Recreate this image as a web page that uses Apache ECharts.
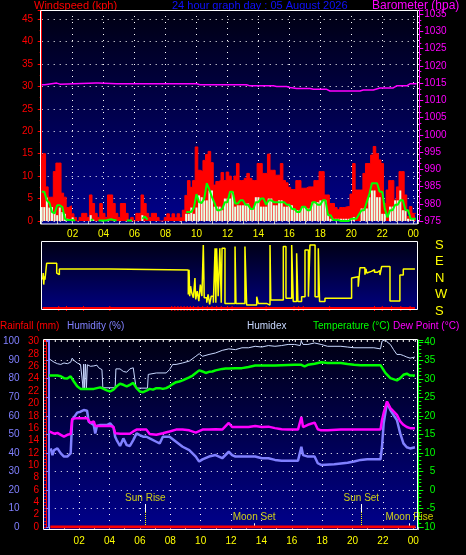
<!DOCTYPE html>
<html><head><meta charset="utf-8">
<script src="https://cdn.jsdelivr.net/npm/echarts@6/dist/echarts.min.js"></script>
<style>html,body{margin:0;padding:0;background:#000;}#c{width:466px;height:555px;}</style>
</head><body><div id="c"></div>
<script>
// ---------- DATA ----------
// Wind (10-minute samples from 00:00), kph
const windStepHours = 1 / 6;
const windGust = [
  13,15,7.6,5.3,5.3,11,12.9,12.9,6.2,5.3,
  3,3.4,1.6,0.8,0,0.8,1.7,1.7,0.8,5.8,
  3.9,1.7,0.8,3.9,1.7,0.8,5.8,5.8,3.9,1.7,
  0.8,3.9,3.9,1.7,0,0.8,0,1.7,1.7,5.8,
  3.9,1.7,0.8,1.7,1.7,0.8,0,0,0.8,1.6,
  0.7,1.6,0.7,1.6,0.7,2.4,5.7,9,7.5,9,
  16.5,11.3,11,13.5,14.8,15.5,13,8,8.8,9,
  10.8,9,10.9,10,9,10,12.8,9,9,9.5,
  10.6,9.5,9,9,12.8,12.8,10.6,10.6,14.9,11.3,
  11.3,10.2,10.2,12.8,9,8.5,7.5,7,7,9,
  9,7.3,7.3,7.6,7.6,7.6,9,9,11,11,
  5.8,5.8,3.9,3.9,3,2.5,3,3,3.2,3.2,
  6,12.8,6.9,6.9,6.9,10.6,12.8,12.8,14.7,16.6,
  15,13.6,12.8,3.9,6.9,9,9,4.7,7.6,11,
  11,5.8,1,3.2,1.7,1.7
];
const windSpeed = [
  3.1,3.1,5.2,3,3.1,2,1.3,3,2,1.6,
  0.5,0.3,0.8,0,0,0,0,0,0,1.3,
  0.3,0,0,0,0,0,0,0,0,0,
  0,0,0,0,0,0,0,0,0,1.3,
  0,0,0,0,0,0,0,0,0,0,
  0,0,0,0,0,0,1.6,1.6,3,1.6,
  3,5.7,5.3,4.6,4.6,6.8,6.8,3.2,3.2,3.2,
  2.4,5,5,5,6.5,3.2,3.5,3.5,3.5,3.9,
  3.9,2.8,2.8,5.3,5.3,3.2,3.2,3.2,5,5,
  3.5,3.5,4.6,4.6,3.2,3.2,3.5,3.5,2.4,2.4,
  2.4,3.2,3.2,2.8,2.8,4.2,4.2,4.2,4.6,4.6,
  4.6,1.6,0.5,0.5,0.5,0.5,0.5,0.5,0.5,0.5,
  0.5,0.9,0,0,2.8,2.8,2.8,5.3,6.8,6.8,
  5.3,5.3,1.6,1.6,0,3.2,3.2,4.6,4.6,6.8,
  2.4,2.4,0.5,0.5,0.5,0
];
const windAvg = [
  6.5,6.5,4.6,4,2,1.7,3.5,3.5,3.1,0.5,
  0.2,0.2,0.2,0.1,null,null,null,null,null,0.3,
  0.3,null,0.1,0.1,0.1,0.1,0.3,0.4,0.2,0.1,
  null,null,null,0.1,0.1,0.1,null,null,null,0.5,
  1.0,0.3,null,null,null,null,null,null,null,null,
  null,null,null,null,null,null,2,2,2,3,
  6,4.2,4,5,8.4,7,5.3,4,2.4,2.4,
  2.7,4.2,4.2,6.5,6.5,3.9,3.9,4.6,4.6,3.6,
  3.6,2.7,2.7,4.2,4.2,5,5,3.6,4.6,4.6,
  4.2,4.2,4.2,4.2,4.2,3.6,3.6,2.7,2.7,2,
  2,3.2,3.2,2.4,2.4,4.2,4.2,3.6,3.6,4.6,
  4.6,1.3,1.3,0.2,0.2,0.2,0,0,0,0,
  0.5,0.5,0.5,1.5,2.4,2.4,4.2,6,8.4,8.4,
  8.4,6.5,6.5,2.7,0.8,2.4,2.4,3.6,3.6,4.6,
  4.6,2.4,2.4,0.5,0.5,0.5
];
// Barometer [hour, hPa]
const baroData = [[0.0,1014.5],[0.2,1014.5],[0.32,1015.0],[0.97,1015.0],[1.0,1014.7],[1.18,1014.7],[1.25,1015.0],[3.5,1015.0],[3.55,1015.2],[3.65,1015.0],[4.84,1014.8],[7.0,1014.8],[10.01,1014.8],[10.22,1014.5],[13.24,1014.5],[13.45,1014.2],[14.96,1014.2],[15.18,1014.0],[15.82,1014.0],[16.04,1013.7],[16.47,1013.4],[17.33,1013.4],[17.55,1013.2],[18.41,1013.2],[18.62,1012.7],[20.56,1012.7],[20.78,1013.0],[21.42,1013.0],[21.85,1013.6],[22.71,1013.6],[22.93,1014.2],[23.58,1014.2],[23.79,1014.8],[24.22,1014.8]];
// Wind direction [hour, position on S-W-N-E-S scale 0..4]
const windDirLabels = ['S','W','N','E','S'];
const windDirData = [[0.06,1.9],[0.1,2.3],[0.13,1.6],[0.17,2.1],[0.21,1.9],[0.32,2.89],[0.97,2.3],[1.05,2.2],[1.14,2.55],[4.41,2.48],[9.47,1.0],[9.52,2.5],[9.56,0.9],[9.62,1.5],[9.69,1.1],[9.8,0.8],[9.9,2.0],[9.95,0.7],[10.05,1.2],[10.15,0.6],[10.25,1.6],[10.35,0.9],[10.44,4.0],[10.5,0.8],[10.66,0.5],[10.75,1.0],[10.85,0.4],[10.95,0.9],[11.09,0.5],[11.2,3.8],[11.25,0.5],[11.3,3.8],[11.4,0.9],[11.51,3.8],[11.6,0.5],[11.65,3.8],[11.84,0.46],[12.49,3.9],[12.55,0.46],[13.13,3.9],[13.24,0.37],[13.89,0.87],[13.99,0.46],[14.53,0.36],[14.75,4.0],[14.8,0.67],[15.61,3.9],[15.78,0.77],[16.15,4.0],[16.25,0.57],[16.47,3.5],[16.55,0.57],[16.79,0.87],[17.01,3.7],[17.23,0.87],[17.33,4.0],[17.66,0.87],[17.87,3.8],[17.95,0.57],[18.3,0.77],[20.02,2.0],[20.13,2.08],[20.45,1.47],[20.56,2.62],[20.88,2.2],[20.95,2.55],[21.0,2.3],[21.1,2.4],[21.3,2.5],[21.5,2.35],[21.7,2.45],[21.85,2.18],[21.96,2.69],[22.5,0.61],[23.14,2.18],[23.36,2.55],[24.11,2.55]];
const windDirRedLine = [[0.06,0.18],[24.11,0.18]];
const windDirRedSpikes = [1.1,1.6,2.7,4.4,8.4,8.6,8.8,9.0,9.2,9.4,9.6,9.8,10.1,10.4,10.7,11.0,11.3,11.6,12.0,12.3,14.5,16.3,16.6,16.9,18.6,21.5,22.0,22.6,23.2,23.8];
// Bottom panel [hour, value]
const rainData = [[0.1,0],[24.15,0]];
const tempData = [[0.03,30.9],[0.57,30.9],[0.79,30.7],[1.0,30.2],[1.22,30.1],[1.44,30.7],[1.54,30.9],[1.65,29.3],[1.87,28.0],[2.09,27.3],[2.52,27.3],[2.96,27.3],[3.17,27.5],[3.39,27.7],[3.61,27.3],[3.82,26.9],[4.04,26.6],[4.26,27.1],[4.47,28.0],[4.69,28.7],[4.91,28.4],[5.13,28.0],[5.34,28.4],[5.56,28.9],[5.78,27.5],[5.99,26.6],[6.21,26.4],[6.43,26.8],[6.64,27.3],[6.86,27.1],[7.08,27.5],[7.3,27.5],[7.51,27.3],[7.73,27.5],[7.95,28.0],[8.16,28.6],[8.38,29.1],[8.6,29.3],[8.81,29.6],[9.03,30.0],[9.25,30.4],[9.47,30.9],[9.68,31.6],[9.9,32.3],[10.12,32.0],[10.33,31.6],[10.55,31.9],[10.77,32.0],[10.98,32.3],[11.2,32.5],[11.42,32.7],[11.64,32.8],[11.85,32.8],[12.29,32.9],[12.72,32.9],[13.15,33.2],[13.59,33.6],[14.02,33.6],[14.89,33.6],[15.33,33.7],[16.19,33.8],[16.63,33.8],[16.84,33.4],[17.06,33.8],[17.5,34.1],[17.93,34.5],[18.36,34.3],[19.23,34.3],[19.67,34.0],[20.1,33.8],[20.53,33.7],[21.84,33.7],[21.94,33.4],[22.16,31.6],[22.49,30.2],[22.92,29.6],[23.14,30.2],[23.35,31.1],[23.57,31.4],[23.79,30.9],[24.11,30.9]];
const humidexData = [[0.03,35.4],[0.13,35.2],[0.35,34.5],[0.57,34.1],[0.79,33.9],[1.0,34.3],[1.22,34.1],[1.44,34.5],[1.54,35.6],[1.65,35.0],[1.87,34.3],[2.09,33.9],[2.2,34.1],[2.26,27.5],[2.3,34.0],[2.36,27.5],[2.42,34.0],[2.48,27.5],[2.54,33.8],[2.74,33.4],[2.96,33.5],[3.17,33.7],[3.28,33.0],[3.39,32.5],[3.5,32.5],[3.56,27.6],[4.37,27.6],[4.42,32.7],[4.47,32.5],[4.69,32.7],[4.91,32.0],[5.13,31.8],[5.34,32.7],[5.56,33.0],[5.67,32.5],[5.75,27.5],[6.5,27.5],[6.55,31.2],[6.64,31.6],[7.08,31.6],[7.73,31.6],[7.95,32.5],[8.16,33.9],[8.38,33.9],[8.81,34.3],[9.25,34.8],[9.68,36.1],[9.9,36.8],[10.12,36.1],[10.55,36.6],[10.98,37.0],[11.42,37.7],[11.85,38.1],[12.29,37.9],[12.72,38.4],[13.15,38.4],[13.59,38.8],[14.02,38.6],[14.46,39.0],[14.89,38.8],[15.33,39.0],[15.76,39.3],[16.19,39.3],[16.55,39.0],[16.63,40.2],[16.74,39.3],[16.84,39.0],[17.06,39.3],[17.5,39.7],[17.93,39.3],[18.36,38.8],[19.23,38.8],[19.67,38.6],[20.1,38.4],[21.4,38.4],[21.84,38.1],[21.94,40.2],[22.16,40.6],[22.27,40.0],[22.49,39.3],[22.7,37.9],[22.92,36.6],[23.14,36.6],[23.35,36.3],[23.57,35.9],[23.79,35.6],[24.11,35.9]];
const dewData = [[0.03,15.8],[0.13,16.1],[0.35,15.2],[0.57,15.4],[0.79,14.9],[1.0,14.4],[1.22,14.9],[1.44,15.1],[1.54,19.2],[1.87,19.4],[2.2,19.4],[2.52,19.4],[2.63,19.0],[2.74,18.1],[2.96,18.5],[3.06,17.3],[3.5,17.3],[4.04,17.3],[4.26,17.0],[4.37,15.3],[4.69,15.2],[5.34,15.2],[5.56,15.8],[5.78,16.3],[6.43,16.3],[6.64,15.1],[7.08,14.9],[7.51,15.3],[7.95,15.8],[8.38,16.3],[8.81,16.3],[9.25,16.1],[9.68,15.5],[10.12,16.3],[10.55,16.3],[10.98,16.4],[11.42,16.3],[11.85,18.1],[12.07,17.0],[12.72,17.0],[13.15,17.0],[13.59,17.3],[14.02,17.0],[14.46,17.1],[14.89,16.7],[15.33,16.4],[15.76,16.3],[16.41,16.3],[16.63,19.7],[16.74,17.0],[17.06,17.6],[17.5,18.2],[17.71,16.4],[17.93,16.1],[18.36,16.1],[19.23,16.3],[21.84,16.3],[21.94,18.9],[22.05,20.8],[22.27,23.9],[22.49,22.1],[22.7,21.2],[22.92,20.3],[23.14,18.5],[23.35,17.6],[23.57,17.0],[23.79,16.7],[24.11,16.7]];
const humData = [[0.13,42.4],[0.24,38.8],[0.35,41.5],[0.57,42.4],[0.79,39.7],[1.0,38],[1.22,38],[1.44,39.7],[1.54,57.7],[1.87,61.7],[2.09,62.2],[2.3,63.1],[2.52,62.7],[2.63,56.8],[2.74,55.9],[2.96,55],[3.06,50.5],[3.17,54.5],[3.39,55],[3.82,55],[4.04,55.9],[4.26,53.8],[4.37,48.7],[4.47,46.9],[4.69,43.7],[4.91,47.8],[5.13,44.2],[5.34,43.7],[5.56,46.9],[5.78,50.5],[5.99,49.6],[6.21,48.7],[6.43,48.7],[6.64,47.8],[7.08,46],[7.3,45.1],[7.51,48.7],[7.95,48.7],[8.38,46],[8.81,43.3],[9.25,41.5],[9.68,38],[9.9,35.3],[10.12,36.5],[10.55,38],[10.98,38.8],[11.42,37.1],[11.85,40.6],[12.07,38.8],[12.29,38],[13.15,38],[13.59,38],[14.02,37.1],[14.46,37.1],[14.89,36.2],[15.33,35.8],[16.41,35.8],[16.63,43.3],[16.74,38.8],[17.06,38],[17.5,38],[17.71,34.4],[17.93,33.5],[18.8,33.8],[19.67,34.7],[20.1,35.3],[20.53,36.2],[20.97,36.5],[21.84,36.5],[21.94,43.3],[22.05,56],[22.27,67.1],[22.49,63.1],[22.7,60.4],[22.92,57.7],[23.14,50.5],[23.35,45.1],[23.57,43],[23.79,42.4],[24.11,43]];
// Sun / moon events
const eventNames = ['Sun Rise','Moon Set','Sun Set','Moon Rise'];
const eventTimes = [6.36, 13.52, 20.58, 23.74];
const eventKinds = ['sun','moon','sun','moon'];

// ---------- CHART ----------
const FONT = '"Liberation Sans", Arial, sans-serif';
const chart = echarts.init(document.getElementById('c'), null, {renderer:'canvas', width:466, height:555});
const grad = (a,b) => new echarts.graphic.LinearGradient(0,0,0,1,[{offset:0,color:a},{offset:1,color:b}]);
const dotted = {show:true, lineStyle:{color:'#ffffff', type:[1,5], width:1}};
const hourLabel = v => (Math.abs(v-Math.round(v))<1e-6 && v>0.5 && v<=24.01 && Math.round(v)%2===0) ? String(Math.round(v)%24).padStart(2,'0') : '';
const stepLabel = (step, maxv) => v => { const q = v/step; return (Math.abs(q-Math.round(q))<1e-6 && v<=maxv+1e-6) ? String(Math.round(v)) : ''; };
const windPairs = arr => arr.map((v,i)=>[i*windStepHours, v]);

const sunTop = 12.4, sunMid = 8.1, moonTop = 2.0, sunLabel = 15.6, moonLabel = 5.4;
const markData = [];
eventTimes.forEach((t,i)=>{
  if (eventKinds[i]==='sun') {
    markData.push([{coord:[t,sunTop], lineStyle:{color:'#ffffff',width:1,type:'solid'}},{coord:[t,sunMid]}]);
    markData.push([{coord:[t,sunMid], lineStyle:{color:'#ffff00',width:1,type:[1,1]}},{coord:[t,0]}]);
  } else {
    markData.push([{coord:[t,moonTop], lineStyle:{color:'#ffffff',width:1,type:'solid'}},{coord:[t,0]}]);
  }
});

const txt = (text,left,top,color,size) => ({text, left, top, padding:0, textStyle:{color, fontSize:size, fontWeight:'normal', fontFamily:FONT}});

const option = {
  backgroundColor:'#000',
  animation:false,
  textStyle:{fontFamily:FONT},
  title:[
    txt('Windspeed (kph)',34,0,'#ff0000',11),
    txt('24 hour graph day : 05 August 2026',172,0,'#1010ff',11),
    txt('Barometer (hpa)',372,0,'#ff00ff',12),
    txt('Rainfall (mm)',0,321,'#ff0000',10),
    txt('Humidity (%)',67,321,'#8080ff',10),
    txt('Humidex',247,321,'#c8d8ff',10),
    txt('Temperature (°C)',313,321,'#00ff00',10),
    txt('Dew Point (°C)',393,321,'#ff00ff',10)
  ],
  graphic:{elements:[
    {type:'rect', silent:true, z:-10, shape:{x:40,y:10,width:378,height:214}, style:{fill:grad('#000012','#00008c')}},
    {type:'rect', silent:true, z:-10, shape:{x:41,y:241,width:377,height:69}, style:{fill:grad('#000012','#000080')}},
    {type:'rect', silent:true, z:-10, shape:{x:43,y:339,width:375,height:191}, style:{fill:grad('#000012','#00008c')}},
    {type:'rect', silent:true, z:50, shape:{x:40.5,y:10.5,width:377,height:213.5}, style:{fill:'none', stroke:'#ffffff', lineWidth:1}},
    {type:'rect', silent:true, z:50, shape:{x:41.5,y:241.5,width:376,height:68}, style:{fill:'none', stroke:'#ffffff', lineWidth:1}},
    {type:'rect', silent:true, z:50, shape:{x:43.5,y:339.5,width:374,height:190}, style:{fill:'none', stroke:'#ffffff', lineWidth:1}}
  ]},
  grid:[
    {left:41.7, top:10, width:376.3, height:211},
    {left:41.7, top:241, width:376.3, height:70},
    {left:44.6, top:340, width:373.4, height:187}
  ],
  xAxis:[
    {type:'value', gridIndex:0, min:0, max:24.31, interval:2, offset:3,
     axisLine:{show:false}, axisTick:{show:true, length:3, lineStyle:{color:'#c0c0c0'}},
     minorTick:{show:true, splitNumber:2, length:3, lineStyle:{color:'#c0c0c0'}},
     axisLabel:{color:'#ffff00', fontSize:10, margin:5, formatter:hourLabel},
     splitLine:dotted},
    {type:'value', gridIndex:1, min:0, max:24.31, show:false},
    {type:'value', gridIndex:2, min:0, max:24.31, interval:2, offset:3,
     axisLine:{show:false}, axisTick:{show:true, length:3, lineStyle:{color:'#c0c0c0'}},
     minorTick:{show:true, splitNumber:2, length:3, lineStyle:{color:'#c0c0c0'}},
     axisLabel:{color:'#ffff00', fontSize:10, margin:6, formatter:hourLabel},
     splitLine:dotted}
  ],
  yAxis:[
    {type:'value', gridIndex:0, position:'left', offset:2.7, min:0, max:47, interval:5,
     axisLine:{show:true, lineStyle:{color:'#ff0000'}}, axisTick:{show:true, length:4, lineStyle:{color:'#ff0000'}},
     minorTick:{show:true, splitNumber:2, length:2, lineStyle:{color:'#ff0000'}},
     axisLabel:{color:'#ff0000', fontSize:10, margin:6, formatter:stepLabel(5,45)},
     splitLine:dotted},
    {type:'value', gridIndex:0, position:'right', offset:1.3, min:975, max:1036.2, interval:5,
     axisLine:{show:true, lineStyle:{color:'#ff00ff'}}, axisTick:{show:true, length:4, lineStyle:{color:'#ff00ff'}},
     minorTick:{show:true, splitNumber:3, length:2, lineStyle:{color:'#ff00ff'}},
     axisLabel:{color:'#ff00ff', fontSize:10, margin:5, formatter:stepLabel(5,1035)},
     splitLine:{show:false}},
    {type:'value', gridIndex:1, position:'right', min:0, max:4.24, interval:1,
     axisLine:{show:false}, axisTick:{show:false}, splitLine:{show:false},
     axisLabel:{color:'#ffff00', fontSize:13, margin:17, formatter:v => (Math.abs(v-Math.round(v))<1e-6 && v<=4) ? windDirLabels[Math.round(v)] : ''}},
    {type:'value', gridIndex:2, position:'left', offset:23.1, min:0, max:100.9, interval:10,
     axisLine:{show:true, lineStyle:{color:'#8080ff', width:2}}, axisTick:{show:true, length:3, lineStyle:{color:'#8080ff'}},
     axisLabel:{color:'#8080ff', fontSize:10, margin:6, formatter:stepLabel(10,100)},
     splitLine:dotted},
    {type:'value', gridIndex:2, position:'left', offset:2.6, min:0, max:30.27, interval:2,
     axisLine:{show:true, lineStyle:{color:'#ff0000'}}, axisTick:{show:true, length:3, lineStyle:{color:'#ff0000'}},
     minorTick:{show:true, splitNumber:4, length:2, lineStyle:{color:'#ff0000'}},
     axisLabel:{color:'#ff0000', fontSize:10, margin:7, formatter:stepLabel(2,30)},
     splitLine:{show:false}},
    {type:'value', gridIndex:2, position:'right', offset:0.3, min:-10, max:40.5, interval:5,
     axisLine:{show:true, lineStyle:{color:'#00ff00'}}, axisTick:{show:true, length:5, lineStyle:{color:'#00ff00'}},
     minorTick:{show:true, splitNumber:5, length:3, lineStyle:{color:'#00ff00'}},
     axisLabel:{color:'#00ff00', fontSize:10, margin:17, align:'right', formatter:stepLabel(5,40)},
     splitLine:{show:false}}
  ],
  series:[
    {name:'Gust', type:'line', xAxisIndex:0, yAxisIndex:0, step:'middle', symbol:'none', z:2,
     data:windPairs(windGust), lineStyle:{color:'#ff0000', width:1}, areaStyle:{color:'#ff0000', opacity:1}},
    {name:'Speed', type:'bar', xAxisIndex:0, yAxisIndex:0, barWidth:2, z:3,
     data:windPairs(windSpeed), itemStyle:{color:'#e6ffe6'}},
    {name:'Average', type:'line', xAxisIndex:0, yAxisIndex:0, symbol:'none', z:4, connectNulls:false,
     data:windPairs(windAvg), lineStyle:{color:'#00ff00', width:2}},
    {name:'Barometer', type:'line', xAxisIndex:0, yAxisIndex:1, symbol:'none', z:5,
     data:baroData, lineStyle:{color:'#ff00ff', width:1.5}},
    {name:'DirRed', type:'line', xAxisIndex:1, yAxisIndex:2, symbol:'none', z:2,
     data:windDirRedLine, lineStyle:{color:'#ff0000', width:2}},
    {name:'DirRedSpikes', type:'bar', xAxisIndex:1, yAxisIndex:2, barWidth:1, z:2,
     data:windDirRedSpikes.map(t=>[t,0.3]), itemStyle:{color:'#ff0000'}},
    {name:'Direction', type:'line', xAxisIndex:1, yAxisIndex:2, symbol:'none', step:'end', z:3,
     data:windDirData, lineStyle:{color:'#ffff00', width:1.5}},
    {name:'Rainfall', type:'line', xAxisIndex:2, yAxisIndex:4, symbol:'none', z:6,
     data:rainData, lineStyle:{color:'#ff0000', width:3}},
    {name:'Humidex', type:'line', xAxisIndex:2, yAxisIndex:5, symbol:'none', z:3,
     data:humidexData, lineStyle:{color:'#c8d8ff', width:1}},
    {name:'Temperature', type:'line', xAxisIndex:2, yAxisIndex:5, symbol:'none', z:4,
     data:tempData, lineStyle:{color:'#00ff00', width:2.5}},
    {name:'Humidity', type:'line', xAxisIndex:2, yAxisIndex:3, symbol:'none', z:4,
     data:humData, lineStyle:{color:'#8080ff', width:2.5}},
    {name:'Dew Point', type:'line', xAxisIndex:2, yAxisIndex:5, symbol:'none', z:5,
     data:dewData, lineStyle:{color:'#ff00ff', width:2.5}},
    {name:'Events', type:'scatter', xAxisIndex:2, yAxisIndex:3, symbol:'circle', symbolSize:1, z:7,
     itemStyle:{color:'rgba(0,0,0,0)'},
     data:eventTimes.map((t,i)=>({name:eventNames[i], value:[t, eventKinds[i]==='sun'?sunLabel:moonLabel]})),
     label:{show:true, position:'inside', formatter:'{b}', color:'#ffff00', fontSize:10, fontFamily:FONT},
     markLine:{silent:true, symbol:['none','none'], label:{show:false}, animation:false, data:markData}}
  ]
};
chart.setOption(option);
</script></body></html>
